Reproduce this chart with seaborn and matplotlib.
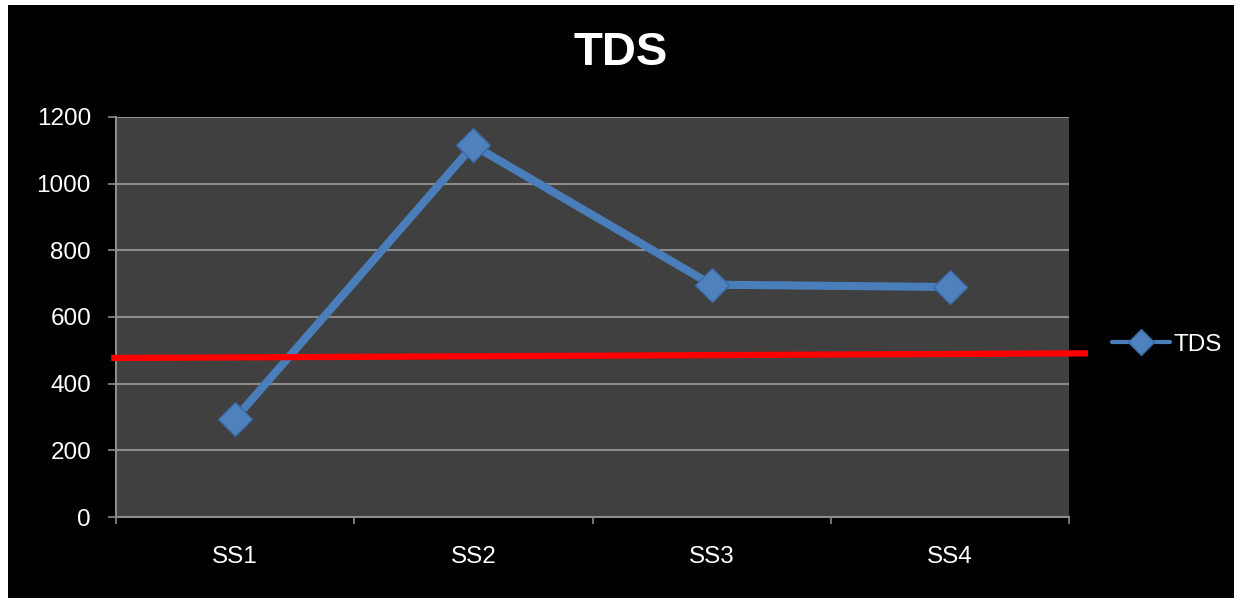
import matplotlib
matplotlib.use("Agg")
import matplotlib.pyplot as plt
import seaborn as sns
import pandas as pd
from matplotlib.patches import Rectangle
from matplotlib import font_manager

# ---- data ----
categories = ["SS1", "SS2", "SS3", "SS4"]
tds_values = [295, 1115, 697, 690]
series_name = "TDS"
yticks = [0, 200, 400, 600, 800, 1000, 1200]
limit_x = [-0.52, 3.58]
limit_y = [477, 491]

sns.set_theme(style="dark")
available = {f.name for f in font_manager.fontManager.ttflist}
FONT = [f for f in ["Liberation Sans Narrow", "Liberation Sans", "DejaVu Sans"]
        if f in available]
plt.rcParams["font.family"] = FONT

fig = plt.figure(figsize=(12.34, 5.98), dpi=100, facecolor="white")
fig.patches.append(Rectangle((8 / 1234, -0.01), 1.0, 1.01 - 5 / 598,
                             transform=fig.transFigure, facecolor="black",
                             edgecolor="none", zorder=-10))

ax = fig.add_axes([116 / 1234, 1 - 517 / 598, 953 / 1234, 400 / 598])
ax.set_facecolor("#404040")

df = pd.DataFrame({"cat": categories, "val": tds_values})
line_col = "#4A7EBB"
sns.lineplot(data=df, x="cat", y="val", ax=ax, color=line_col, linewidth=5.8,
             marker="D", markersize=17, markerfacecolor="#4F81BD",
             markeredgecolor="#3A6AA5", markeredgewidth=1, label=series_name,
             sort=False, zorder=5)

ax.plot(limit_x, limit_y, color="#FF0000", linewidth=4.5, clip_on=False,
        solid_capstyle="butt", zorder=6)

ax.set_xlim(-0.5, 3.5)
ax.set_ylim(0, 1200)
ax.set_xlabel("")
ax.set_ylabel("")

ax.set_yticks(yticks)
ax.set_yticklabels([str(v) for v in yticks])
ax.yaxis.grid(True, color="#8C8C8C", linewidth=1.5)
ax.xaxis.grid(False)

ax.set_xticks([-0.5, 0.5, 1.5, 2.5, 3.5])
ax.set_xticklabels([])
ax.set_xticks(range(len(categories)), minor=True)
ax.set_xticklabels(categories, minor=True)

ax.tick_params(axis="x", which="major", length=5, width=1.2, color="#8C8C8C",
               direction="out", bottom=True)
ax.tick_params(axis="x", which="minor", length=0, pad=21, labelsize=17.5,
               labelcolor="white")
ax.tick_params(axis="y", length=6, width=1.2, color="#8C8C8C", direction="out",
               left=True, pad=12, labelsize=17.5, labelcolor="white")

for s in ["right", "top"]:
    ax.spines[s].set_visible(False)
for s in ["left", "bottom"]:
    ax.spines[s].set_visible(True)
    ax.spines[s].set_color("#8C8C8C")
    ax.spines[s].set_linewidth(1.5)

leg = ax.legend(loc="center left", bbox_to_anchor=(1102 / 1234, 1 - 345 / 598),
                bbox_transform=fig.transFigure, frameon=False, fontsize=17.5,
                handlelength=2.4, handletextpad=0.15, borderaxespad=0)
for t in leg.get_texts():
    t.set_color("white")
for h in leg.legend_handles:
    h.set_linewidth(3)
    h.set_markersize(13)

fig.text(621 / 1234, 1 - 53 / 598, "TDS", ha="center", va="center",
         fontsize=34, fontweight="bold", color="white", family=FONT)

fig.savefig("out.png", dpi=100, facecolor=fig.get_facecolor())
